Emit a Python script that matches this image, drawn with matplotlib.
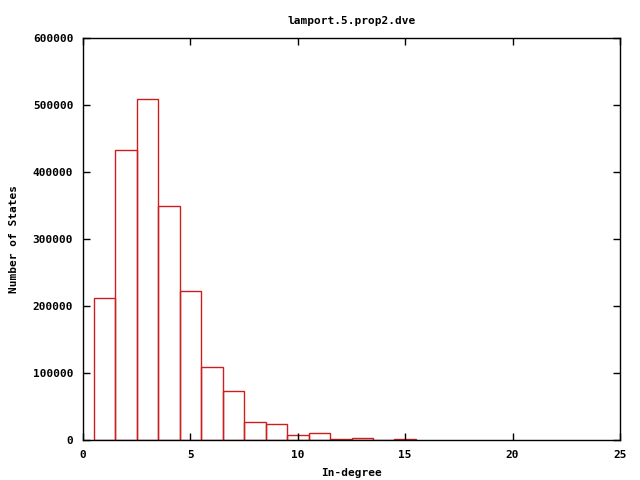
import matplotlib
matplotlib.use('Agg')
import matplotlib.pyplot as plt

# in-degree values and number of states
degrees = [1, 2, 3, 4, 5, 6, 7, 8, 9, 10, 11, 12, 13, 14, 15]
states = [212000, 433000, 509000, 349000, 222500, 109000, 73000, 27000,
          24000, 7500, 10500, 1500, 3000, 0, 1500]

xticks = [0, 5, 10, 15, 20, 25]
yticks = [0, 100000, 200000, 300000, 400000, 500000, 600000]

plt.rcParams['font.family'] = 'DejaVu Sans Mono'
plt.rcParams['font.weight'] = 'bold'
plt.rcParams['font.size'] = 8

fig = plt.figure(figsize=(6.4, 4.8), dpi=100)
ax = fig.add_axes([83 / 640, 40 / 480, 537 / 640, 402 / 480])

ax.bar(degrees, states, width=1.0, fill=False, edgecolor='#cc1f1f',
       linewidth=1.0, align='center')

ax.set_xlim(0, 25)
ax.set_ylim(0, 600000)
ax.set_xticks(xticks)
ax.set_yticks(yticks)
ax.set_xticklabels([str(t) for t in xticks])
ax.set_yticklabels([str(t) for t in yticks])
ax.tick_params(direction='in', length=5, width=1, top=True, right=True,
               labelsize=8, pad=7)
for s in ax.spines.values():
    s.set_linewidth(1)
    s.set_zorder(3)

ax.set_title('lamport.5.prop2.dve', fontsize=8, fontweight='bold', pad=10)
ax.set_xlabel('In-degree', fontsize=8, fontweight='bold', labelpad=6)
ax.set_ylabel('Number of States', fontsize=8, fontweight='bold', labelpad=10)

fig.savefig('out.png', dpi=100)
